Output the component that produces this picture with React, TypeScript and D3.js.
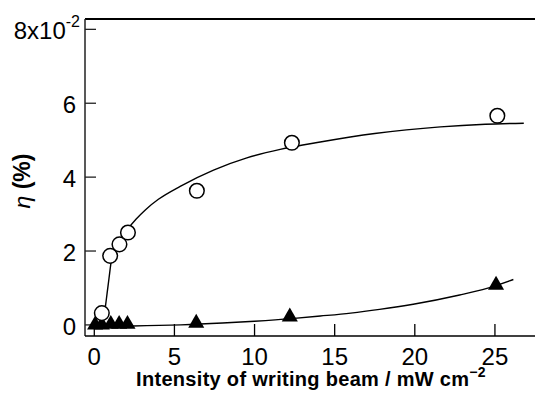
import React from "react";
import * as d3 from "d3";

// Open circles (measured points)
const circleX = [0.47, 0.99, 1.57, 2.1, 6.4, 12.33, 25.15];
const circleY = [0.32, 1.87, 2.18, 2.5, 3.63, 4.93, 5.66];

// Filled triangles (measured points)
const triX = [0.05, 0.47, 1.03, 1.55, 2.07, 6.36, 12.2, 25.07];
const triY = [0.0, 0.0, 0.02, 0.02, 0.02, 0.05, 0.22, 1.08];

// Fitted curve through circles
const circleFitX = [0.5, 0.6, 0.68, 0.8, 0.92, 1.05, 1.25, 1.6, 2.1, 2.6, 3.2, 4.0, 5.36, 7.44, 9.52, 11.6, 14.1, 17.5, 21.6, 24.4, 26.8];
const circleFitY = [0, 0.2, 0.45, 0.86, 1.27, 1.7, 1.98, 2.28, 2.6, 2.86, 3.12, 3.4, 3.75, 4.19, 4.52, 4.75, 4.95, 5.18, 5.36, 5.43, 5.46];

// Fitted curve through triangles
const triFitX = [0.0, 2.4, 5.4, 8, 10, 12.3, 14.1, 16, 17.8, 19.9, 22.8, 24.5, 26.15];
const triFitY = [-0.04, -0.03, 0.0, 0.05, 0.1, 0.17, 0.24, 0.32, 0.42, 0.56, 0.81, 0.99, 1.23];

const xTicks = [0, 5, 10, 15, 20, 25];
const yTicks = [0, 2, 4, 6];

const W = 535;
const H = 400;
const FONT = "'Liberation Sans', Arial, Helvetica, sans-serif";

export default function App() {
  const x = d3.scaleLinear().domain([-0.58, 27.5]).range([85, 535]);
  const y = d3.scaleLinear().domain([-0.3, 8.28]).range([336, 19]);

  const line = d3
    .line<[number, number]>()
    .x((d) => x(d[0]))
    .y((d) => y(d[1]))
    .curve(d3.curveMonotoneX);

  const cFit = circleFitX.map((v, i) => [v, circleFitY[i]] as [number, number]);
  const tFit = triFitX.map((v, i) => [v, triFitY[i]] as [number, number]);
  const tri = d3.symbol().type(d3.symbolTriangle).size(112)();

  const left = x.range()[0];
  const right = x.range()[1];
  const top = y.range()[1];
  const bottom = y.range()[0];

  return (
    <svg
      width={W}
      height={H}
      style={{ position: "absolute", left: 0, top: 0, background: "#fff" }}
      fontFamily={FONT}
    >
      <rect x={0} y={0} width={W} height={H} fill="#fff" />
      {/* axes frame */}
      <line x1={left} x2={right} y1={top} y2={top} stroke="#000" strokeWidth={2} />
      <line x1={left} x2={left} y1={top} y2={bottom} stroke="#222" strokeWidth={1.5} />
      <line x1={left} x2={right} y1={bottom} y2={bottom} stroke="#000" strokeWidth={1.5} />

      {/* y ticks */}
      {[...yTicks, 8].map((t) => (
        <line key={"yt" + t} x1={left} x2={left + 11} y1={y(t)} y2={y(t)} stroke="#222" strokeWidth={1.3} />
      ))}
      {yTicks.map((t) => (
        <text key={"yl" + t} x={76} y={y(t) + 10} textAnchor="end" fontSize={24} fill="#000">
          {t}
        </text>
      ))}
      <text x={80} y={y(8) + 10} textAnchor="end" fontSize={24} fill="#000">
        8x10
        <tspan dy={-12} fontSize={16}>
          -2
        </tspan>
      </text>

      {/* x ticks */}
      {xTicks.map((t) => (
        <line key={"xt" + t} x1={x(t)} x2={x(t)} y1={bottom} y2={bottom - 12} stroke="#000" strokeWidth={1.3} />
      ))}
      {xTicks.map((t) => (
        <text key={"xl" + t} x={x(t)} y={365} textAnchor="middle" fontSize={24} fill="#000">
          {t}
        </text>
      ))}

      {/* axis titles */}
      <text x={311} y={386} textAnchor="middle" fontSize={20} fontWeight="bold" letterSpacing={0.3} fill="#000">
        Intensity of writing beam / mW cm
        <tspan dy={-9} fontSize={14}>
          −2
        </tspan>
      </text>
      <text
        transform={`translate(30,181) rotate(-90)`}
        textAnchor="middle"
        fontSize={23}
        fontWeight="bold"
        fill="#000"
      >
        <tspan fontStyle="italic" fontWeight="normal">η</tspan> (%)
      </text>

      {/* fit curves */}
      <path d={line(cFit) || ""} fill="none" stroke="#000" strokeWidth={1.4} />
      <path d={line(tFit) || ""} fill="none" stroke="#000" strokeWidth={1.4} />

      {/* triangles */}
      {triX.map((v, i) => (
        <path key={"tr" + i} d={tri || ""} transform={`translate(${x(v)},${y(triY[i])})`} fill="#000" />
      ))}

      {/* circles */}
      {circleX.map((v, i) => (
        <circle key={"c" + i} cx={x(v)} cy={y(circleY[i])} r={7.3} fill="#fff" stroke="#000" strokeWidth={1.5} />
      ))}
    </svg>
  );
}
